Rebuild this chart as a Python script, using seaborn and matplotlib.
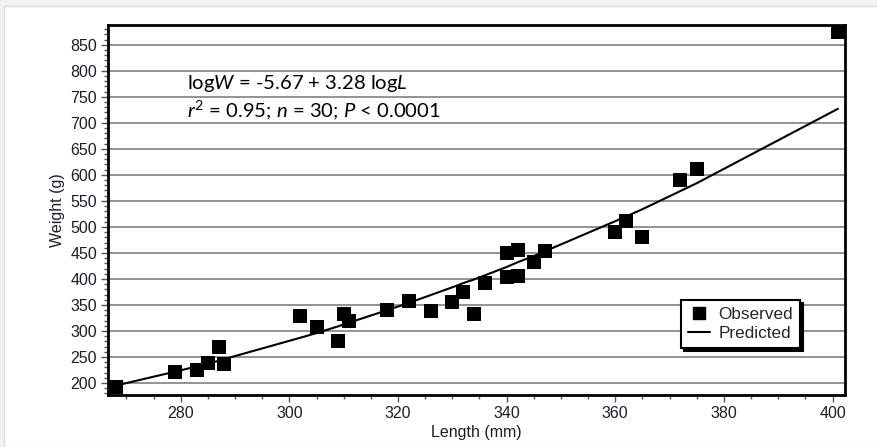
import numpy as np
import pandas as pd
import matplotlib
matplotlib.use("Agg")
import matplotlib.pyplot as plt
import seaborn as sns
from matplotlib.ticker import MultipleLocator
from matplotlib.lines import Line2D
from matplotlib.patches import Rectangle

length_obs = [268, 279, 283, 285, 287, 288, 302, 305, 309, 310, 311, 318, 322, 326,
              330, 332, 334, 336, 340, 342, 340, 342, 345, 347, 360, 362, 365, 372, 375, 401]
weight_obs = [192, 222, 226, 239, 270, 236, 329, 307, 281, 332, 320, 340, 358, 338,
              355, 374, 332, 392, 450, 456, 403, 406, 433, 454, 490, 512, 480, 590, 612, 875]

# Predicted curve
pred_length = [268, 279, 283, 285, 287, 288, 302, 305, 309, 310, 311, 318, 322, 326,
               330, 332, 334, 336, 340, 342, 345, 347, 360, 362, 365, 372, 375, 401]
pred_weight = [195, 222, 232, 237, 243, 246, 287, 296, 309, 313, 316, 340, 354, 369,
               384, 392, 399, 407, 423, 432, 444, 453, 511, 520, 534, 569, 584, 727]

x_ticks = [280, 300, 320, 340, 360, 380, 400]
y_ticks = list(range(200, 851, 50))

sns.set_style("white")
plt.rcParams["font.family"] = ["Liberation Sans", "DejaVu Sans"]
plt.rcParams["mathtext.fontset"] = "custom"
plt.rcParams["mathtext.rm"] = "Lato"
plt.rcParams["mathtext.it"] = "Lato:italic"

W, H = 877, 447
fig = plt.figure(figsize=(W / 100, H / 100), dpi=100, facecolor="#f2f2f2")
fig.patches.append(Rectangle((4 / W, 0), 1, (H - 6) / H, transform=fig.transFigure,
                             facecolor="white", edgecolor="#dcdcdc", lw=1, zorder=-10))

x0, x1, ytop, ybot = 108, 845, 25, 395
ax = fig.add_axes([x0 / W, 1 - ybot / H, (x1 - x0) / W, (ybot - ytop) / H])
ax.set_facecolor("white")

obs = pd.DataFrame({"Length": length_obs, "Weight": weight_obs})
pred = pd.DataFrame({"Length": pred_length, "Weight": pred_weight})

sns.lineplot(data=pred, x="Length", y="Weight", ax=ax, color="black", lw=1.5,
             estimator=None, sort=True, zorder=3, legend=False)
sns.scatterplot(data=obs, x="Length", y="Weight", ax=ax, marker="s", s=95,
                color="black", edgecolor="black", linewidth=0, zorder=4, legend=False)

ax.set_xlim(266.6, 402.3)
ax.set_ylim(177, 888)
ax.set_xticks(x_ticks)
ax.set_yticks(y_ticks)
ax.xaxis.set_minor_locator(MultipleLocator(5))
ax.yaxis.set_minor_locator(MultipleLocator(10))

ax.yaxis.grid(True, which="major", color="#808080", lw=1.2)
ax.xaxis.grid(False)
ax.set_axisbelow(True)

ax.tick_params(which="both", bottom=True, left=True, direction="out", color="#555555")
ax.tick_params(which="major", length=5, width=1, labelsize=11.5, labelcolor="#1c1c2c", pad=3)
ax.tick_params(which="minor", length=3, width=1)

for s in ax.spines.values():
    s.set_color("black")
    s.set_linewidth(2)

ax.set_xlabel("Length (mm)", fontsize=11.5, color="#1c1c2c", labelpad=3)
ax.set_ylabel("Weight (g)", fontsize=11.5, color="#1c1c2c", labelpad=4)

ax.text(0.1068, 0.827, r"log$W$ = -5.67 + 3.28 log$L$", transform=ax.transAxes,
        fontsize=14.6, family="Lato", va="baseline", ha="left", color="black")
ax.text(0.1068, 0.7497, r"$r^2$ = 0.95; $n$ = 30; $P$ < 0.0001", transform=ax.transAxes,
        fontsize=14.6, family="Lato", va="baseline", ha="left", color="black")

handles = [Line2D([], [], marker="s", ls="none", color="black", markersize=8.5),
           Line2D([], [], color="black", lw=1.5)]
leg = ax.legend(handles, ["Observed", "Predicted"], loc="upper left",
                bbox_to_anchor=(0.7775, 0.2568), borderaxespad=0, fancybox=False,
                shadow={"ox": 2, "oy": -2, "color": "black", "alpha": 1},
                edgecolor="black", framealpha=1, fontsize=12.3, handlelength=1.3,
                handletextpad=0.5, borderpad=0.4, labelspacing=0.25)
leg.get_frame().set_linewidth(1.5)
leg.set_zorder(10)

fig.savefig("out.png", dpi=100, facecolor=fig.get_facecolor())
